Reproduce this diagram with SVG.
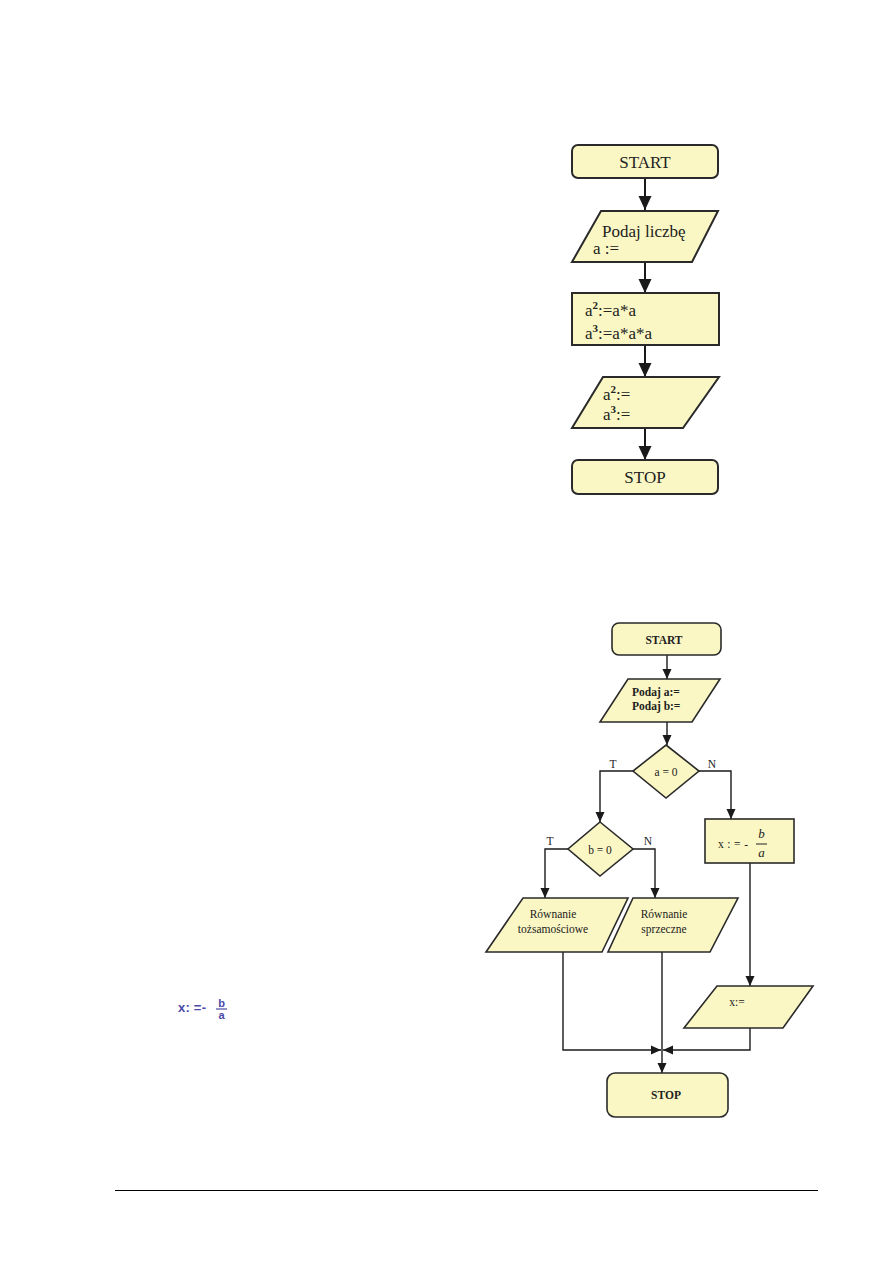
<svg xmlns="http://www.w3.org/2000/svg" width="893" height="1263" viewBox="0 0 893 1263">
<defs>
<style>
.box{fill:#FAF7C4;stroke:#2a2a2a;stroke-width:2}
.boxs{fill:#FAF7C4;stroke:#2a2a2a;stroke-width:1.6}
.ln{fill:none;stroke:#1a1a1a;stroke-width:2}
.lns{fill:none;stroke:#1a1a1a;stroke-width:1.4}
.t{font-family:"Liberation Serif",serif;fill:#222}
.tl{font-size:17px}
.ts{font-size:11.5px}
.b{font-weight:bold}
.blue{font-family:"Liberation Sans",sans-serif;fill:#4a4aa8;font-weight:bold}
</style>
<marker id="aL" markerUnits="userSpaceOnUse" markerWidth="14" markerHeight="14" refX="14" refY="7" orient="auto"><path d="M0,0.5 L14,7 L0,13.5 z" fill="#1a1a1a"/></marker>
<marker id="aS" markerUnits="userSpaceOnUse" markerWidth="10" markerHeight="10" refX="10" refY="5" orient="auto"><path d="M0,0.5 L10,5 L0,9.5 z" fill="#1a1a1a"/></marker>
</defs>
<rect width="893" height="1263" fill="#fff"/>

<g id="connectors">
<line class="ln" x1="645" y1="178" x2="645" y2="210" marker-end="url(#aL)"/>
<line class="ln" x1="645" y1="262" x2="645" y2="293" marker-end="url(#aL)"/>
<line class="ln" x1="645" y1="345" x2="645" y2="377" marker-end="url(#aL)"/>
<line class="ln" x1="645" y1="428" x2="645" y2="460" marker-end="url(#aL)"/>

<line class="lns" x1="667" y1="655" x2="667" y2="679" marker-end="url(#aS)"/>
<line class="lns" x1="667" y1="722" x2="667" y2="745" marker-end="url(#aS)"/>
<polyline class="lns" points="633,771 600,771 600,822" marker-end="url(#aS)"/>
<polyline class="lns" points="699,771 731,771 731,819" marker-end="url(#aS)"/>
<polyline class="lns" points="568,849 545,849 545,898" marker-end="url(#aS)"/>
<polyline class="lns" points="633,849 655,849 655,898" marker-end="url(#aS)"/>
<line class="lns" x1="750" y1="863" x2="750" y2="986" marker-end="url(#aS)"/>
<line class="lns" x1="662" y1="952" x2="662" y2="1073" marker-end="url(#aS)"/>
<polyline class="lns" points="563,952 563,1050 661,1050" marker-end="url(#aS)"/>
<polyline class="lns" points="750,1028 750,1050 663,1050" marker-end="url(#aS)"/>
</g>

<g id="start1">
<rect class="box" x="572" y="145" width="146" height="33" rx="6"/>
<text class="t tl" x="645" y="168" text-anchor="middle">START</text>
</g>
<g id="input1">
<polygon class="box" points="601,211 718,211 692,262 572,262"/>
<text class="t tl" x="602" y="237">Podaj liczbę</text>
<text class="t tl" x="593" y="254">a :=</text>
</g>
<g id="process1">
<rect class="box" x="572" y="293" width="147" height="52"/>
<text class="t tl" x="585" y="316">a<tspan font-size="11" font-weight="bold" dy="-7">2</tspan><tspan dy="7">:=a*a</tspan></text>
<text class="t tl" x="585" y="339">a<tspan font-size="11" font-weight="bold" dy="-7">3</tspan><tspan dy="7">:=a*a*a</tspan></text>
</g>
<g id="output1">
<polygon class="box" points="603,377 719,377 683,428 572,428"/>
<text class="t tl" x="603" y="400">a<tspan font-size="11" font-weight="bold" dy="-7">2</tspan><tspan dy="7">:=</tspan></text>
<text class="t tl" x="603" y="420">a<tspan font-size="11" font-weight="bold" dy="-7">3</tspan><tspan dy="7">:=</tspan></text>
</g>
<g id="stop1">
<rect class="box" x="572" y="460" width="146" height="34" rx="6"/>
<text class="t tl" x="645" y="483" text-anchor="middle">STOP</text>
</g>

<g id="start2">
<rect class="boxs" x="612" y="623" width="109" height="32" rx="7"/>
<text class="t ts b" x="664" y="644" text-anchor="middle">START</text>
</g>
<g id="input2">
<polygon class="boxs" points="628,679 720,679 692,722 600,722"/>
<text class="t ts b" x="632" y="696">Podaj a:=</text>
<text class="t ts b" x="632" y="710">Podaj b:=</text>
</g>
<g id="dec1">
<polygon class="boxs" points="666,745 699,771 666,798 633,771"/>
<text class="t ts" x="666" y="776" text-anchor="middle">a = 0</text>
<text class="t ts" x="613" y="768" text-anchor="middle">T</text>
<text class="t ts" x="712" y="768" text-anchor="middle">N</text>
</g>
<g id="dec2">
<polygon class="boxs" points="600,822 633,849 600,876 568,849"/>
<text class="t ts" x="600" y="854" text-anchor="middle">b = 0</text>
<text class="t ts" x="550" y="845" text-anchor="middle">T</text>
<text class="t ts" x="648" y="845" text-anchor="middle">N</text>
</g>
<g id="calc">
<rect class="boxs" x="705" y="819" width="89" height="44"/>
<text class="t ts" x="718" y="848" textLength="30" lengthAdjust="spacing">x:=-</text>
<line x1="756" y1="844" x2="767" y2="844" stroke="#222" stroke-width="1"/>
<text class="t" font-size="13" x="761.5" y="838" text-anchor="middle" font-style="italic">b</text>
<text class="t" font-size="13" x="761.5" y="857" text-anchor="middle" font-style="italic">a</text>
</g>
<g id="out-tozs">
<polygon class="boxs" points="523,898 628,898 602,952 486,952"/>
<text class="t ts" x="553" y="918" text-anchor="middle">Równanie</text>
<text class="t ts" x="553" y="933" text-anchor="middle">tożsamościowe</text>
</g>
<g id="out-sprz">
<polygon class="boxs" points="633,898 738,898 710,952 608,952"/>
<text class="t ts" x="664" y="918" text-anchor="middle">Równanie</text>
<text class="t ts" x="664" y="933" text-anchor="middle">sprzeczne</text>
</g>
<g id="out-x">
<polygon class="boxs" points="717,986 813,986 783,1028 684,1028"/>
<text class="t ts" x="737" y="1006" text-anchor="middle">x:=</text>
</g>
<g id="stop2">
<rect class="boxs" x="607" y="1073" width="121" height="44" rx="8"/>
<text class="t ts b" x="666" y="1099" text-anchor="middle">STOP</text>
</g>

<g id="formula">
<text class="blue" x="178" y="1012" font-size="13" textLength="28" lengthAdjust="spacing">x: =-</text>
<line x1="216" y1="1009" x2="227" y2="1009" stroke="#4a4aa8" stroke-width="1.2"/>
<text class="blue" x="221.5" y="1007" font-size="11" text-anchor="middle">b</text>
<text class="blue" x="221.5" y="1019" font-size="11" text-anchor="middle">a</text>
</g>

<line x1="115" y1="1190.5" x2="818" y2="1190.5" stroke="#000" stroke-width="1"/>
</svg>
